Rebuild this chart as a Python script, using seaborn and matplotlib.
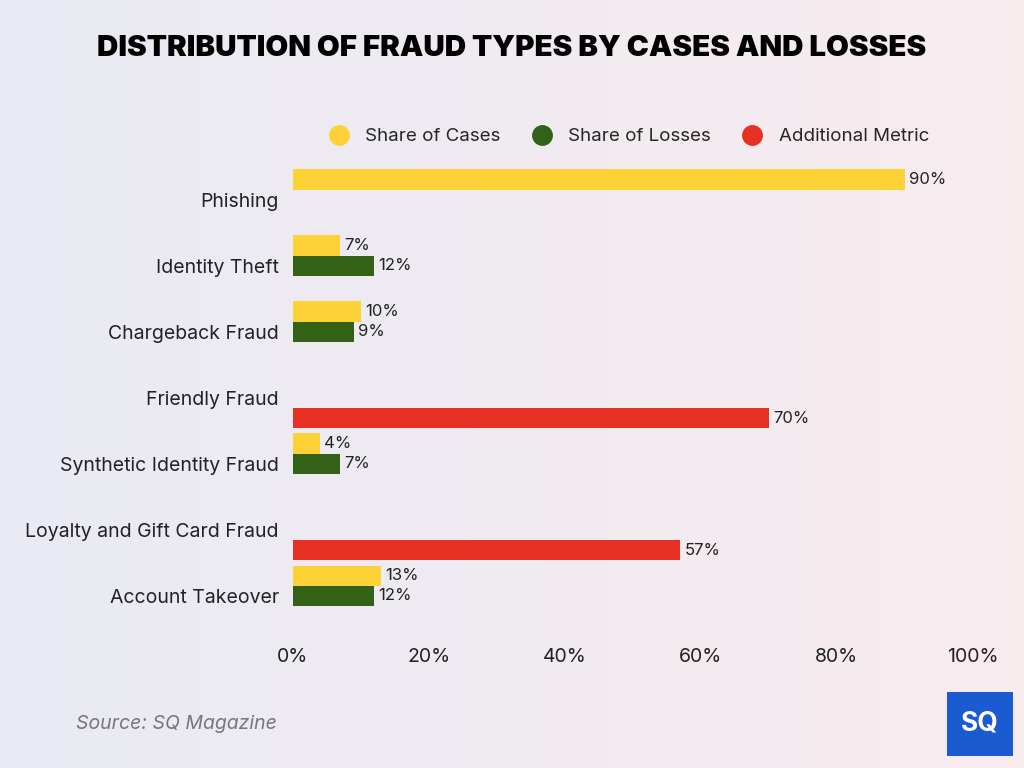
import numpy as np
import pandas as pd
import matplotlib
matplotlib.use("Agg")
import matplotlib.pyplot as plt
from matplotlib.lines import Line2D
import seaborn as sns

categories = ["Phishing", "Identity Theft", "Chargeback Fraud", "Friendly Fraud",
              "Synthetic Identity Fraud", "Loyalty and Gift Card Fraud", "Account Takeover"]
series = ["Share of Cases", "Share of Losses", "Additional Metric"]
share_cases = [90, 7, 10, None, 4, None, 13]
share_losses = [None, 12, 9, None, 7, None, 12]
additional = [None, None, None, 70, None, 57, None]
colors = ["#fdd237", "#336115", "#e53023"]
xticks = [0, 20, 40, 60, 80, 100]

rows = []
for name, vals in zip(series, [share_cases, share_losses, additional]):
    for cat, v in zip(categories, vals):
        if v is not None:
            rows.append({"Fraud Type": cat, "Metric": name, "Value": v})
df = pd.DataFrame(rows)

sns.set_theme(style="white")
plt.rcParams["font.family"] = ["Inter", "DejaVu Sans"]

fig = plt.figure(figsize=(10.24, 7.68), dpi=100)

# soft gradient background
bg = fig.add_axes([0, 0, 1, 1], zorder=-10)
grad = np.linspace(0, 1, 256)
left = np.array([0.914, 0.918, 0.957])
right = np.array([0.973, 0.925, 0.937])
img = left[None, :] * (1 - grad[:, None]) + right[None, :] * grad[:, None]
bg.imshow(img[None, :, :], aspect="auto", extent=[0, 1, 0, 1])
bg.axis("off")

ax = fig.add_axes([0.286, 0.181, 0.664, 0.602])
ax.patch.set_alpha(0)
sns.barplot(data=df, y="Fraud Type", x="Value", hue="Metric", order=categories,
            hue_order=series, palette=colors, orient="h", width=0.92,
            saturation=1, legend=False, linewidth=0, ax=ax)

for cont in ax.containers:
    ax.bar_label(cont, fmt="%g%%", padding=3, fontsize=12, color="#222222")

ax.set_xlim(0, 100)
ax.set_ylim(6.5, -0.5)
ax.set_xticks(xticks)
ax.set_xticklabels([f"{t}%" for t in xticks], fontsize=14, color="#222222")
ax.tick_params(axis="y", labelsize=14, labelcolor="#222222", length=0, pad=10)
ax.tick_params(axis="x", length=0, pad=14)
ax.set_xlabel("")
ax.set_ylabel("")
sns.despine(ax=ax, left=True, bottom=True)

handles = [Line2D([0], [0], marker="o", linestyle="", markersize=14,
                  markerfacecolor=c, markeredgecolor=c) for c in colors]
fig.legend(handles, series, loc="center", bbox_to_anchor=(0.61, 0.822), ncol=3,
           frameon=False, fontsize=13.5, handletextpad=0.4, columnspacing=1.2)

fig.text(0.5, 0.937, "DISTRIBUTION OF FRAUD TYPES BY CASES AND LOSSES", ha="center",
         va="center", fontsize=21.3, fontweight="black", color="#000000")
fig.text(0.074, 0.057, "Source: SQ Magazine", ha="left", va="center", fontsize=14,
         style="italic", color="#777777")

# logo
logo = fig.add_axes([0.925, 0.016, 0.064, 0.083])
logo.set_facecolor("#1a5bd1")
logo.set_xticks([])
logo.set_yticks([])
for s in logo.spines.values():
    s.set_visible(False)
logo.text(0.5, 0.5, "SQ", ha="center", va="center", fontsize=19, fontweight="bold",
          color="white", transform=logo.transAxes)

fig.savefig("out.png", dpi=100)
